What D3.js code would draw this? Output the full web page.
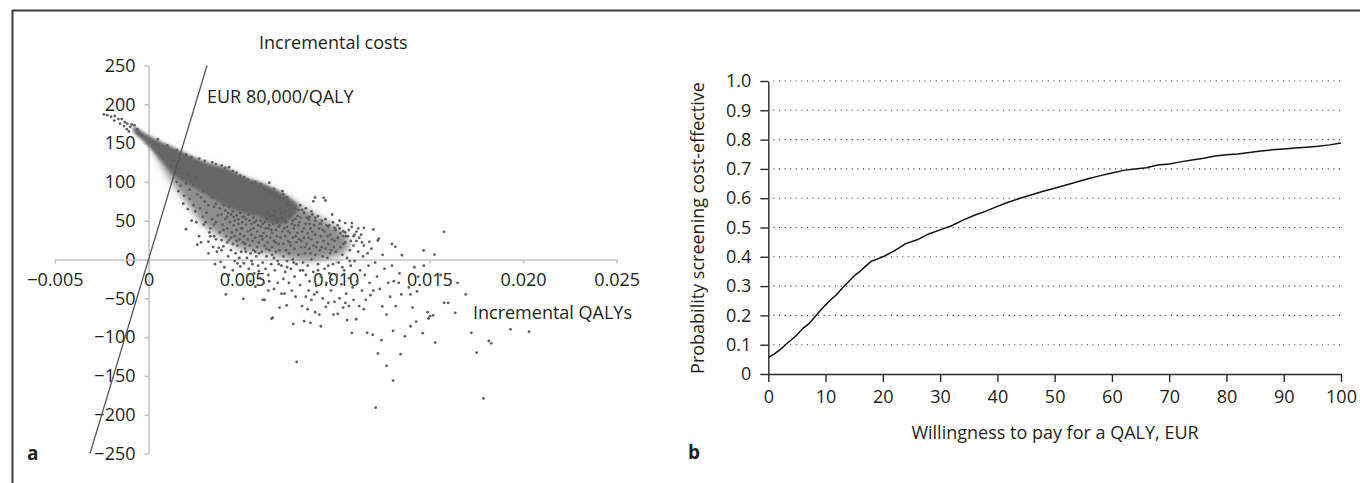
<!DOCTYPE html>
<html><head><meta charset="utf-8">
<script src="https://cdn.jsdelivr.net/npm/d3@7"></script>
<style>
html,body{margin:0;padding:0;background:#fff;}
svg{display:block;font-family:"Open Sans",sans-serif;}
</style></head>
<body>
<svg id="c" width="1360" height="483"></svg>
<script>
// ---------- Panel a data ----------
const qalyTicks = [-0.005, 0, 0.005, 0.010, 0.015, 0.020, 0.025];
const qalyTickLabels = ["\u22120.005", "0", "0.005", "0.010", "0.015", "0.020", "0.025"];
const costTicks = [250, 200, 150, 100, 50, 0, -50, -100, -150, -200, -250];
const costTickLabels = ["250", "200", "150", "100", "50", "0", "\u221250", "\u2212100", "\u2212150", "\u2212200", "\u2212250"];
const wtpThreshold = 80000; // EUR per QALY
// outline of the moderately dense part of the PSA cloud [incremental QALYs x1000, incremental cost]
const shellOutline = [[0.3,148],[1.35,140],[2.97,123],[4.13,116],[5.06,104],[5.99,96],[6.92,87],[8.07,70],[9.23,53],[10.0,42],[10.6,30],[10.7,16],[10.3,6],[9.6,2],[8.5,-2],[7.3,2],[6.0,9],[4.9,14],[3.8,30],[2.9,46],[2.2,68],[1.3,98],[0.6,126]];
// dense core of the PSA cloud
const coreOutline = [[-0.81,171],[0,160],[0.8,150],[1.35,144],[2.2,134],[2.97,126],[3.6,121],[4.13,118],[5.06,107],[6.0,99],[6.9,89],[7.6,78],[8.0,68],[7.8,58],[7.2,46],[6.5,47],[6.0,54],[4.83,62],[3.67,75],[2.5,92],[1.35,109],[0.8,124],[0.3,138],[-0.3,153],[-0.81,165]];
// individual PSA simulations [incremental QALYs x1000, incremental cost]
const psaPoints = [
[-2.38,187],[-2.2,186],[-2.0,184],[-1.8,185],[-1.83,179],[-1.61,181],[-1.43,181],[-1.52,175],[-1.26,177],[-1.31,172],[-1.13,175],[-1.16,168],[-0.98,171],[-0.9,174],[-1.05,165],[-0.75,173],[-0.6,168],[-0.5,163],[-0.35,160],
[0.5,155],[1.0,147],[1.5,141],[2.0,135],[2.3,132],[2.7,130],[3.0,127],[3.4,125],[3.6,123],[3.9,121],[4.1,118],[4.3,119],[4.5,114],[4.7,112],[4.9,108],[5.1,106],[5.3,103],[5.5,98],[5.7,100],[5.9,95],[6.0,97],[6.2,90],[6.4,88],[6.6,86],[6.8,82],[7.0,80],[7.2,78],[7.4,72],[7.6,70],[7.8,66],[8.0,64],[8.3,60],[8.6,55],[8.9,50],[9.2,46],[9.6,42],[10.0,38],[10.5,35],[11.0,32],[6.45,99],[6.7,91],[7.2,84],[7.4,80],[8.1,70],[8.8,75],[8.89,80],[9.35,79.5],[9.45,76],[7.15,88],[8.4,66],[8.7,62],[9.8,58],[10.2,50],[10.5,47],[10.86,47],[11.2,40],[11.5,40.8],[12.0,38.7],[10.4,36.5],[9.93,40.8],[12.3,27],[12.25,24.5],[11.79,22.8],[13.0,20],[13.18,16.3],[13.53,5.6],[14.69,11.6],[15.27,6.4],[15.78,35.7],
[1.6,88],[1.9,82],[2.0,39],[1.7,95],[2.2,78],[2.4,70],[2.5,62],[2.6,19],[2.7,30],[2.8,22],[2.9,55],[2.55,48],[2.3,50],[2.75,66],[2.95,45],[2.1,65],[1.85,72],
[3.1,60],[3.2,23],[3.3,40],[3.4,52],[3.5,30],[3.45,16],[3.6,48],[3.7,57],[3.8,35],[3.9,25],[3.95,45],[3.2,8],[3.65,10],[3.55,-6],[3.85,-3],[3.25,35],[3.75,15],[3.05,48],
[4.0,17],[4.1,52],[4.15,30],[4.2,40],[4.25,4],[4.3,25],[4.35,48],[4.4,12],[4.45,35],[4.5,20],[4.55,44],[4.6,-2],[4.6,30],[4.65,8],[4.7,38],[4.75,18],[4.8,46],[4.85,26],[4.9,-9],[4.9,33],[4.95,10],[4.05,-10],[4.13,-45],[4.3,-20],[4.5,-14],[4.75,-5],[4.85,2],[4.55,55],[4.25,60],
[5.0,40],[5.05,22],[5.1,-5],[5.1,30],[5.15,14],[5.2,45],[5.25,2],[5.3,26],[5.3,36],[5.35,-12],[5.4,18],[5.45,8],[5.5,32],[5.5,-2],[5.55,24],[5.6,12],[5.6,40],[5.65,-18],[5.7,28],[5.75,4],[5.8,36],[5.8,16],[5.85,-8],[5.9,22],[5.95,30],[5.95,-24],[5.06,-50.7],[5.3,-20],[5.45,-28],[5.7,-35],[5.9,-15],[5.2,10],[5.4,50],[5.65,48],[5.0,55],
[6.0,42],[6.05,10],[6.1,26],[6.1,-4],[6.15,34],[6.2,18],[6.2,48],[6.25,-12],[6.3,30],[6.3,4],[6.35,22],[6.4,40],[6.4,-20],[6.45,12],[6.5,56],[6.5,28],[6.55,-6],[6.6,34],[6.6,16],[6.65,46],[6.7,2],[6.7,24],[6.75,-14],[6.8,38],[6.8,10],[6.85,30],[6.9,-2],[6.9,52],[6.95,20],[6.1,-52],[6.2,-52],[6.4,-40],[6.57,-76.5],[6.63,-75],[6.9,-30],[6.15,-30],[6.7,-38],[6.35,60],[6.75,62],[6.45,-28],
[7.0,44],[7.0,12],[7.05,28],[7.1,-8],[7.1,60],[7.15,36],[7.2,20],[7.2,4],[7.25,50],[7.3,-16],[7.3,30],[7.35,12],[7.4,42],[7.4,-2],[7.45,24],[7.5,56],[7.5,8],[7.55,34],[7.6,-12],[7.6,18],[7.65,46],[7.7,0],[7.7,28],[7.75,40],[7.8,-22],[7.8,14],[7.85,52],[7.9,22],[7.9,-6],[7.95,34],[7.1,-44],[7.26,-44],[7.38,-59],[7.5,-30],[7.73,-83],[7.91,-132],[7.65,-40],[7.2,-25],[7.85,-48],[7.0,-62],
[8.0,44],[8.0,6],[8.05,26],[8.1,-14],[8.1,54],[8.15,16],[8.2,36],[8.25,-4],[8.3,28],[8.3,60],[8.35,8],[8.4,46],[8.4,-20],[8.45,20],[8.5,34],[8.5,-8],[8.55,52],[8.6,14],[8.6,-28],[8.65,40],[8.7,0],[8.7,26],[8.75,58],[8.8,-16],[8.8,18],[8.85,44],[8.9,6],[8.9,32],[8.95,-34],[8.31,-79.5],[8.49,-64],[8.65,-81.6],[8.2,-60],[8.4,-48],[8.7,-52],[8.9,-68],[8.55,-40],[8.1,-33],[8.85,-45],
[9.0,22],[9.05,-6],[9.1,40],[9.15,12],[9.2,-22],[9.2,30],[9.25,50],[9.3,4],[9.35,24],[9.4,-12],[9.4,36],[9.45,14],[9.5,-30],[9.5,44],[9.55,2],[9.6,20],[9.65,-18],[9.7,32],[9.7,8],[9.75,-40],[9.8,26],[9.85,-6],[9.9,16],[9.95,38],[9.12,-71],[9.47,-61],[9.88,-71],[9.93,-54.5],[9.3,-50],[9.6,-56],[9.8,-26],[9.0,-42],[9.2,-86],
[10.0,10],[10.05,-20],[10.1,28],[10.15,-4],[10.2,40],[10.25,16],[10.3,-32],[10.35,6],[10.4,30],[10.45,-14],[10.5,22],[10.55,-44],[10.6,2],[10.65,30],[10.7,-24],[10.75,12],[10.8,-8],[10.85,42],[10.9,-36],[10.95,18],[10.39,-62],[10.51,-56],[10.86,-94.5],[10.2,-50],[10.7,-60],[10.95,-52],[10.1,-70],[10.6,-78],
[11.0,-2],[11.1,24],[11.15,-28],[11.2,10],[11.3,-14],[11.35,32],[11.4,-40],[11.45,4],[11.5,18],[11.55,-20],[11.6,-52],[11.7,8],[11.75,-8],[11.8,-30],[11.9,14],[11.09,-77],[11.67,-94.5],[11.97,-97],[11.5,-64],[11.85,-46],[11.25,-60],
[12.1,-4],[12.2,-22],[12.35,-38],[12.48,-60.5],[12.5,6],[12.6,-12],[12.71,-71],[12.8,-30],[12.9,-48],[13.0,-8],[13.2,-60],[13.36,-30],[13.4,-18],[13.5,-45],[13.1,-28],[12.13,-191],[13.06,-156],[12.71,-137],[12.25,-121],[13.46,-122],[12.44,-104],[13.06,-92],[13.69,-99],[13.99,-86],[12.0,-40],
[13.99,-45],[14.34,-41],[13.9,-36],[14.1,-62],[14.4,-22],[14.29,-80],[14.64,-95],[15.31,-107],[15.03,-73],[14.95,-76],[14.9,-68],[15.2,-72],[15.78,-55.8],[16.0,-55.8],[16.38,-68.7],[16.94,-45],[17.24,-94.5],[18.17,-105],[18.3,-108],[17.52,-120],[17.89,-179],[19.33,-90],[20.32,-93],[14.7,-8],[14.2,-10],[15.6,-20],[16.5,-30],
[1.2,120],[1.4,112],[1.5,100],[1.8,105],[2.0,98],[2.2,90],[2.4,96],[2.6,84],[2.8,80],[2.1,110],[2.5,105],[2.9,88],[3.0,75],[3.2,70],[3.4,80],[1.3,128],[1.7,118],
[3.5,68],[3.6,72],[3.8,66],[3.9,58],[4.0,70],[4.1,63],[4.2,55],[4.3,68],[4.4,58],[4.5,62],[4.6,50],[4.7,57],[4.8,52],[4.9,60],[5.0,48],[3.3,30],[3.6,26],[3.9,12],[4.4,28],[4.7,24],[4.95,40],[3.5,45],[4.0,38],[4.2,22],
[5.1,55],[5.2,52],[5.35,58],[5.5,46],[5.6,54],[5.75,50],[5.85,44],[6.0,50],[6.1,46],[6.25,40],[6.3,52],[6.45,44],[6.55,38],[6.7,56],[6.85,48],[6.95,42],[5.15,20],[5.45,38],[5.7,10],[5.9,8],[6.05,30],[6.3,14],[6.6,6],[6.8,22],[6.95,-6],[5.55,-6],
[7.05,66],[7.15,54],[7.3,62],[7.35,48],[7.45,36],[7.6,58],[7.7,50],[7.8,44],[7.95,56],[8.05,48],[8.2,64],[8.3,40],[8.45,54],[8.6,46],[8.75,36],[8.9,54],[7.25,40],[7.55,22],[7.85,30],[8.15,24],[8.55,28],[8.35,16],[8.65,8],[8.95,16],[7.4,-10],[7.75,-4],[8.25,-14],
[9.05,56],[9.15,46],[9.3,38],[9.45,52],[9.55,30],[9.65,44],[9.85,48],[9.95,24],[10.1,44],[10.25,34],[10.4,20],[10.55,30],[10.7,38],[10.8,24],[10.95,30],[11.1,36],[11.25,28],[11.4,22],[9.25,16],[9.75,12],[10.35,-10],[10.75,-2],[9.05,-14],[9.6,-8]
];

// ---------- Panel b data ----------
const wtpValues = [0,1,2,3,4,5,6,7,8,9,10,11,12,13,14,15,16,17,18,19,20,22,24,26,28,30,32,34,36,38,40,42,44,46,48,50,52,54,56,58,60,62,64,66,68,70,72,74,76,78,80,82,84,86,88,90,92,94,96,98,100];
const probCE = [0.057,0.068,0.082,0.100,0.116,0.133,0.155,0.170,0.192,0.215,0.236,0.255,0.272,0.295,0.315,0.335,0.350,0.368,0.385,0.392,0.400,0.420,0.445,0.458,0.478,0.492,0.506,0.525,0.542,0.556,0.572,0.587,0.600,0.612,0.624,0.634,0.645,0.656,0.667,0.677,0.686,0.695,0.700,0.704,0.713,0.717,0.724,0.730,0.736,0.744,0.748,0.751,0.756,0.761,0.765,0.768,0.771,0.774,0.777,0.782,0.788];
const wtpTicks = [0,10,20,30,40,50,60,70,80,90,100];
const probTicks = [0,0.1,0.2,0.3,0.4,0.5,0.6,0.7,0.8,0.9,1.0];
const probTickLabels = ["0","0.1","0.2","0.3","0.4","0.5","0.6","0.7","0.8","0.9","1.0"];

const svg = d3.select("#c");
const textCol = "#231f20";
const FS = 18;

const defs = svg.append("defs");
defs.append("filter").attr("id","softShell").attr("x","-20%").attr("y","-20%").attr("width","140%").attr("height","140%")
  .append("feGaussianBlur").attr("stdDeviation",3.5);
defs.append("filter").attr("id","softCore").attr("x","-20%").attr("y","-20%").attr("width","140%").attr("height","140%")
  .append("feGaussianBlur").attr("stdDeviation",1.6);

// frame
svg.append("line").attr("x1",12).attr("x2",1360).attr("y1",10.5).attr("y2",10.5).attr("stroke","#3a3a3a").attr("stroke-width",2);
svg.append("line").attr("x1",12.5).attr("x2",12.5).attr("y1",10).attr("y2",483).attr("stroke","#3a3a3a").attr("stroke-width",2);

// ---------- Panel a ----------
const xa = d3.scaleLinear().domain([-0.005, 0.025]).range([54.9, 616.7]);
const ya = d3.scaleLinear().domain([-250, 250]).range([453.5, 65.5]);
const ga = svg.append("g");

const yAxA = ga.append("g").attr("transform", `translate(${xa(0)},0)`)
  .call(d3.axisLeft(ya).tickValues(costTicks).tickFormat((d,i)=>costTickLabels[i]).tickSize(4).tickSizeOuter(0).tickPadding(9));
const xAxA = ga.append("g").attr("transform", `translate(0,${ya(0)})`)
  .call(d3.axisBottom(xa).tickValues(qalyTicks).tickFormat((d,i)=>qalyTickLabels[i]).tickSize(4).tickSizeOuter(0).tickPadding(10));
[yAxA, xAxA].forEach(g => {
  g.selectAll("path,line").attr("stroke","#c4c4c4").attr("stroke-width",1.6);
  g.selectAll("text").attr("font-size",FS).attr("fill",textCol).attr("font-family","Open Sans");
});

const outline = d3.line().x(d=>xa(d[0]/1000)).y(d=>ya(d[1])).curve(d3.curveCatmullRomClosed);
ga.append("path").attr("d", outline(shellOutline)).attr("fill","#8e8e8e").attr("filter","url(#softShell)");
ga.append("path").attr("d", outline(coreOutline)).attr("fill","#666").attr("filter","url(#softCore)");
ga.append("g").selectAll("circle").data(psaPoints).join("circle")
  .attr("cx", d=>xa(d[0]/1000)).attr("cy", d=>ya(d[1])).attr("r",1.4).attr("fill","#5e5e5e");

// WTP threshold line
const wtpLine = [-250, 250].map(c => [c / wtpThreshold, c]);
ga.append("line").attr("x1",xa(wtpLine[0][0])).attr("y1",ya(wtpLine[0][1]))
  .attr("x2",xa(wtpLine[1][0])).attr("y2",ya(wtpLine[1][1]))
  .attr("stroke","#555").attr("stroke-width",1.3);

const txt = (x,y,s,anchor,extra) => {
  const t = svg.append("text").attr("x",x).attr("y",y).attr("dominant-baseline","central")
    .attr("text-anchor",anchor).attr("font-size",FS).attr("fill",textCol).text(s);
  if (extra) extra(t);
  return t;
};
txt(259, 42, "Incremental costs", "start");
txt(207, 96, "EUR 80,000/QALY", "start");
txt(632, 312, "Incremental QALYs", "end");
txt(27, 453, "a", "start", t=>t.attr("font-weight","bold").attr("font-size",19));

// ---------- Panel b ----------
const xb = d3.scaleLinear().domain([0, 100]).range([768.3, 1341]);
const yb = d3.scaleLinear().domain([0, 1]).range([374, 81]);
const gb = svg.append("g");

gb.append("g").selectAll("line").data(probTicks.slice(1)).join("line")
  .attr("x1", xb(0)+5).attr("x2", xb(100)).attr("y1", d=>yb(d)).attr("y2", d=>yb(d))
  .attr("stroke","#3c3c3c").attr("stroke-width",1.1).attr("stroke-dasharray","1.1,4.5");

const yAxB = gb.append("g").attr("transform", `translate(${xb(0)},0)`)
  .call(d3.axisLeft(yb).tickValues(probTicks).tickFormat((d,i)=>probTickLabels[i]).tickSize(8).tickSizeOuter(0).tickPadding(9));
const xAxB = gb.append("g").attr("transform", `translate(0,${yb(0)})`)
  .call(d3.axisBottom(xb).tickValues(wtpTicks).tickSize(8).tickSizeOuter(0).tickPadding(8));
[yAxB, xAxB].forEach(g => {
  g.selectAll("path,line").attr("stroke","#2a2a2a").attr("stroke-width",1.4);
  g.selectAll("text").attr("font-size",FS).attr("fill",textCol).attr("font-family","Open Sans");
});

gb.append("path")
  .datum(wtpValues.map((w,i)=>[w, probCE[i]]))
  .attr("d", d3.line().x(d=>xb(d[0])).y(d=>yb(d[1])))
  .attr("fill","none").attr("stroke","#111").attr("stroke-width",1.5);

txt(1055, 432, "Willingness to pay for a QALY, EUR", "middle");
txt(0, 0, "Probability screening cost-effective", "middle", t=>t.attr("x",null).attr("y",null)
  .attr("transform","translate(697,228) rotate(-90)"));
txt(688, 452, "b", "start", t=>t.attr("font-weight","bold").attr("font-size",19));
</script>
</body></html>
